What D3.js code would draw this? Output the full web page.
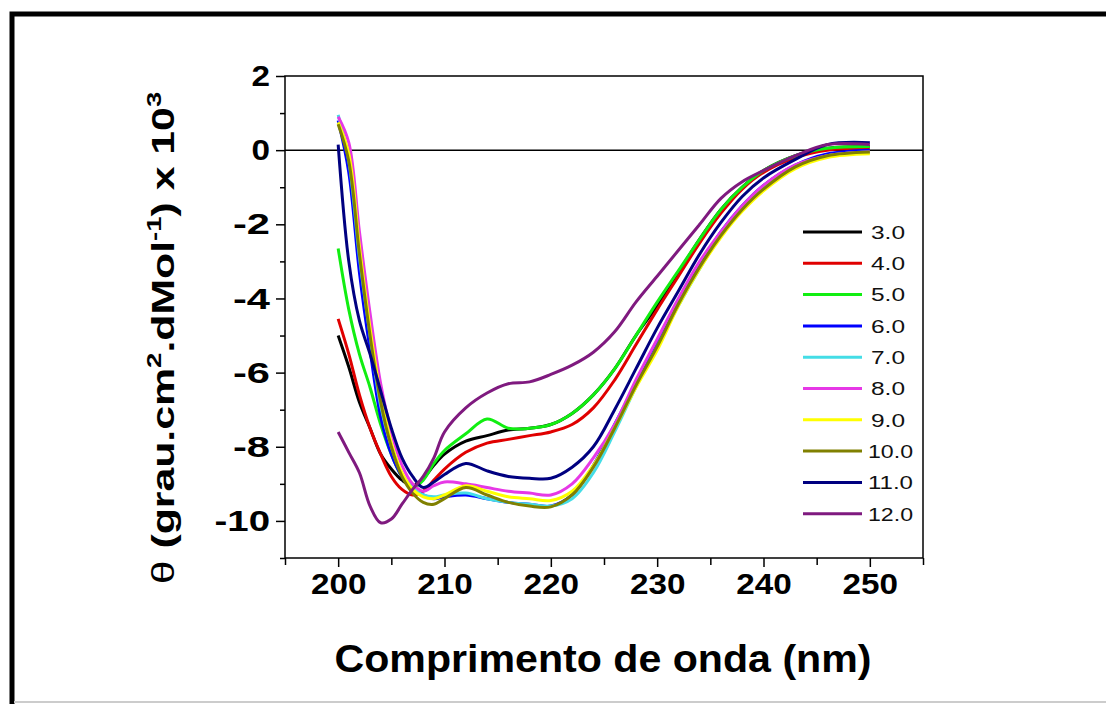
<!DOCTYPE html>
<html>
<head>
<meta charset="utf-8">
<script src="https://cdn.jsdelivr.net/npm/d3@7"></script>
<style>
  body { margin: 0; background: #fff; }
  svg { display: block; font-family: "Liberation Sans", Arial, sans-serif; }
</style>
</head>
<body>
<div class="chart"></div>
<script>
// wavelength (nm) shared by every series
const wavelengths = [200, 201, 202, 203, 204, 205, 206, 207, 208, 209, 210, 212, 214, 216, 218, 220, 222, 224, 226, 228, 230, 232, 234, 236, 238, 240, 243, 246, 250]

const phLabels = ["3.0", "4.0", "5.0", "6.0", "7.0", "8.0", "9.0", "10.0", "11.0", "12.0"]
const colors = ["#000000", "#e00000", "#11ee11", "#0000ff", "#44dde6", "#e638e6", "#ffff00", "#808000", "#000080", "#7f1a7f"]

// theta x 10^3 per pH
const ph3  = [-5.0, -5.85, -6.8, -7.5, -8.2, -8.6, -8.9, -9.05, -8.85, -8.5, -8.2, -7.85, -7.7, -7.55, -7.5, -7.4, -7.1, -6.6, -5.9, -5.0, -4.2, -3.3, -2.4, -1.6, -1.0, -0.55, -0.15, 0.05, 0.1]
const ph4  = [-4.55, -5.5, -6.6, -7.5, -8.2, -8.8, -9.15, -9.3, -9.2, -8.9, -8.6, -8.15, -7.9, -7.8, -7.7, -7.6, -7.4, -6.95, -6.2, -5.25, -4.3, -3.4, -2.5, -1.7, -1.05, -0.6, -0.2, 0.0, 0.05]
const ph5  = [-2.65, -4.3, -5.5, -6.4, -7.4, -8.2, -8.8, -9.1, -8.9, -8.45, -8.1, -7.65, -7.25, -7.5, -7.5, -7.4, -7.1, -6.6, -5.9, -5.0, -4.1, -3.25, -2.4, -1.6, -1.0, -0.55, -0.15, 0.05, 0.1]
const ph6  = [0.8, -0.6, -3.3, -5.4, -7.2, -8.2, -8.8, -9.15, -9.3, -9.4, -9.35, -9.3, -9.4, -9.5, -9.55, -9.6, -9.3, -8.5, -7.4, -6.3, -5.2, -4.1, -3.1, -2.2, -1.5, -0.95, -0.4, -0.1, 0.0]
const ph7  = [0.95, -0.3, -2.9, -5.0, -6.9, -8.0, -8.75, -9.1, -9.3, -9.35, -9.3, -9.25, -9.4, -9.5, -9.55, -9.6, -9.4, -8.7, -7.6, -6.4, -5.3, -4.2, -3.2, -2.3, -1.6, -1.0, -0.45, -0.15, -0.05]
const ph8  = [0.9, 0.2, -2.2, -4.4, -6.3, -7.6, -8.5, -9.0, -9.2, -9.05, -8.95, -9.0, -9.1, -9.2, -9.25, -9.3, -9.0, -8.3, -7.4, -6.2, -5.1, -4.0, -3.0, -2.2, -1.5, -0.95, -0.4, -0.15, -0.05]
const ph9  = [0.75, -0.1, -2.6, -4.8, -6.6, -7.9, -8.7, -9.15, -9.35, -9.4, -9.3, -9.05, -9.2, -9.35, -9.4, -9.45, -9.2, -8.5, -7.5, -6.4, -5.4, -4.2, -3.2, -2.35, -1.65, -1.1, -0.5, -0.2, -0.1]
const ph10 = [0.7, -0.3, -2.8, -5.0, -6.8, -8.0, -8.8, -9.25, -9.5, -9.55, -9.4, -9.1, -9.3, -9.5, -9.6, -9.62, -9.3, -8.55, -7.5, -6.35, -5.3, -4.15, -3.15, -2.3, -1.6, -1.05, -0.45, -0.15, -0.05]
const ph11 = [0.15, -3.0, -4.6, -5.5, -6.5, -7.5, -8.3, -8.8, -9.1, -8.95, -8.75, -8.45, -8.65, -8.8, -8.85, -8.85, -8.55, -8.0, -7.0, -5.9, -4.8, -3.8, -2.8, -1.95, -1.25, -0.75, -0.25, 0.15, 0.2]
const ph12 = [-7.6, -8.15, -8.7, -9.6, -10.05, -9.95, -9.55, -9.15, -8.8, -8.3, -7.6, -6.95, -6.55, -6.3, -6.25, -6.05, -5.8, -5.45, -4.9, -4.1, -3.4, -2.7, -2.0, -1.3, -0.85, -0.55, -0.15, 0.15, 0.15]

const series = [ph3, ph4, ph5, ph6, ph7, ph8, ph9, ph10, ph11, ph12]

const xTicks = [200, 210, 220, 230, 240, 250]
const xMinor = [195, 205, 215, 225, 235, 245, 255]
const yTicks = [2, 0, -2, -4, -6, -8, -10]
const yMinor = [1, -1, -3, -5, -7, -9, -11]

const W = 1106, H = 704
const margin = {top: 76, right: 183, bottom: 146, left: 285}
const width = W - margin.left - margin.right
const height = H - margin.top - margin.bottom

const svg = d3.select(".chart").append("svg")
    .attr("width", W)
    .attr("height", H)

// outer frame (top and left only, like the scan)
svg.append("path")
    .attr("d", `M12,${H} L12,14 L${W},14`)
    .attr("fill", "none")
    .attr("stroke", "#000")
    .attr("stroke-width", 5)
svg.append("line")
    .attr("x1", 14).attr("x2", W).attr("y1", H - 2).attr("y2", H - 2)
    .attr("stroke", "#ccc").attr("stroke-width", 2)

const g = svg.append("g")
    .attr("transform", `translate(${margin.left},${margin.top})`)

const x = d3.scaleLinear().domain([195, 255]).range([0, width])
const y = d3.scaleLinear().domain([2, -11]).range([0, height])

// minor ticks
g.append("g")
    .attr("transform", `translate(0,${height})`)
    .call(d3.axisBottom(x).tickValues(xMinor).tickSize(7).tickFormat(""))
    .call(a => a.select(".domain").remove())
g.append("g")
    .call(d3.axisLeft(y).tickValues(yMinor).tickSize(5).tickFormat(""))
    .call(a => a.select(".domain").remove())

function tickText(sel) {
    sel.attr("font-size", 30).attr("font-weight", "bold").attr("fill", "#000")
        .attr("font-family", "Liberation Sans, Arial, sans-serif")
        .attr("textLength", d => String(d).length * 18.5)
        .attr("lengthAdjust", "spacingAndGlyphs")
}

const xAxis = g.append("g")
    .attr("transform", `translate(0,${height})`)
    .call(d3.axisBottom(x).tickValues(xTicks).tickSize(9).tickPadding(6).tickFormat(d => String(d)))
xAxis.select(".domain").remove()
xAxis.selectAll("text").call(tickText)

const yAxis = g.append("g")
    .call(d3.axisLeft(y).tickValues(yTicks).tickSize(9).tickPadding(6).tickFormat(d => String(d)))
yAxis.select(".domain").remove()
yAxis.selectAll("text").call(tickText)

g.selectAll(".tick line").attr("stroke", "#000").attr("stroke-width", 1.5)

// zero line
g.append("line")
    .attr("x1", 0).attr("x2", width)
    .attr("y1", y(0)).attr("y2", y(0))
    .attr("stroke", "#000").attr("stroke-width", 1.5)

const line = d3.line()
    .curve(d3.curveCatmullRom.alpha(0.5))
    .x((d, i) => x(wavelengths[i]))
    .y(d => y(d))

g.selectAll(".curve")
    .data(series)
    .join("path")
    .attr("class", "curve")
    .attr("d", line)
    .attr("fill", "none")
    .attr("stroke", (d, i) => colors[i])
    .attr("stroke-width", 3)
    .attr("stroke-linejoin", "round")

// plot box
g.append("rect")
    .attr("width", width).attr("height", height)
    .attr("fill", "none").attr("stroke", "#000").attr("stroke-width", 1.5)

// legend
const legend = g.selectAll(".legend")
    .data(phLabels)
    .join("g")
    .attr("class", "legend")
    .attr("transform", (d, i) => `translate(${803 - margin.left},${232 - margin.top + i * 31.3})`)
legend.append("line")
    .attr("x1", 0).attr("x2", 59)
    .attr("stroke", (d, i) => colors[i])
    .attr("stroke-width", 3)
legend.append("text")
    .attr("x", d => d.length > 3 ? 65 : 68)
    .attr("dy", "0.36em")
    .attr("font-size", 19)
    .attr("fill", "#111")
    .attr("textLength", d => d.length > 3 ? 45 : 34)
    .attr("lengthAdjust", "spacingAndGlyphs")
    .text(d => d)

// axis titles
svg.append("text")
    .attr("x", 603)
    .attr("y", 672)
    .attr("text-anchor", "middle")
    .attr("font-size", 38)
    .attr("font-weight", "bold")
    .attr("textLength", 537)
    .attr("lengthAdjust", "spacingAndGlyphs")
    .text("Comprimento de onda (nm)")

const yTitle = svg.append("text")
    .attr("transform", "translate(174,338) rotate(-90) scale(1.38,1)")
    .attr("text-anchor", "middle")
    .attr("font-size", 31)
    .attr("font-weight", "bold")
yTitle.append("tspan").attr("font-weight", "normal").text("θ ")
yTitle.append("tspan").text("(grau.cm")
yTitle.append("tspan").attr("dy", -13).attr("font-size", 20).text("2")
yTitle.append("tspan").attr("dy", 13).text(".dMol")
yTitle.append("tspan").attr("dy", -13).attr("font-size", 20).text("-1")
yTitle.append("tspan").attr("dy", 13).text(") x 10")
yTitle.append("tspan").attr("dy", -13).attr("font-size", 20).text("3")
</script>
</body>
</html>
